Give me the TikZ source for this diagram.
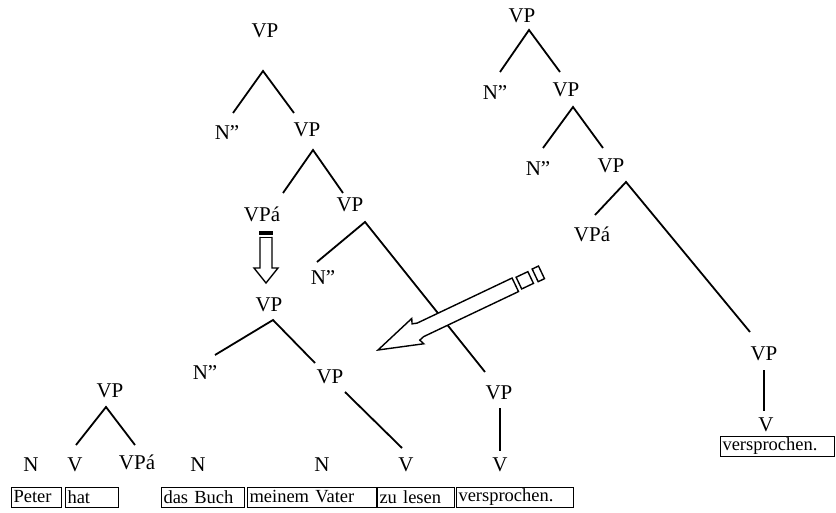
\documentclass[tikz,border=0pt]{standalone}
\usepackage{fontspec}
\setmainfont{Liberation Serif}
\begin{document}
\begin{tikzpicture}[x=1pt,y=-1pt,
  lbl/.style={font=\fontsize{21}{21}\selectfont, inner sep=0pt},
  br/.style={line width=1.8pt},
  thinbr/.style={line width=1.1pt},
  arr/.style={line width=1.4pt, line join=miter},
  wbox/.style={draw, line width=1pt, font=\fontsize{18.5}{19}\selectfont, anchor=west,
    minimum height=20pt, inner xsep=2pt, inner ysep=0pt, text width=#1, align=left},
]
\useasboundingbox (0,0) rectangle (836,513);

% ---------- middle tree ----------
\node[lbl] (t1vp)  at (265,31)  {VP};
\node[lbl] (t1n1)  at (227,133) {N”};
\node[lbl] (t1vp2) at (307,130) {VP};
\node[lbl] (t1vpa) at (262,214) {VPá};
\node[lbl] (t1vp3) at (350,205) {VP};
\node[lbl] (t1n2)  at (323,278) {N”};
\node[lbl] (t1vp4) at (269,305) {VP};
\node[lbl] (t1n3)  at (205,373) {N”};
\node[lbl] (t1vp5) at (330,377) {VP};

\coordinate (a1) at (263,71);  \coordinate (a1l) at (233,113); \coordinate (a1r) at (294,113);
\coordinate (a2) at (313,150); \coordinate (a2l) at (283,193); \coordinate (a2r) at (343,193);
\coordinate (a3) at (365,222); \coordinate (a3l) at (317,262); \coordinate (a3r) at (485,372);
\coordinate (a4) at (273,320); \coordinate (a4l) at (215,355); \coordinate (a4r) at (315,363);
\coordinate (b5) at (345,392); \coordinate (b5e) at (402,448);
\draw[br] (a1l) -- (a1) -- (a1r);
\draw[br] (a2l) -- (a2) -- (a2r);
\draw[br] (a3l) -- (a3) -- (a3r);
\draw[br] (a4l) -- (a4) -- (a4r);
\draw[br] (b5) -- (b5e);

% small down arrow
\draw[arr] (260,237) -- (260,268) -- (254,268) -- (266,283) -- (278,268) -- (272,268) -- (272,237);
\fill (259.3,231) rectangle (272.7,235);
\draw[line width=1pt] (260,238) -- (272,238);

% ---------- small tree ----------
\node[lbl] (s1vp) at (110,391) {VP};
\coordinate (a5) at (106,407); \coordinate (a5l) at (76,445); \coordinate (a5r) at (135,445);
\draw[br] (a5l) -- (a5) -- (a5r);

% bottom labels
\node[lbl] (bn1) at (31,465)  {N};
\node[lbl] (bv1) at (75,465)  {V};
\node[lbl] (bvpa) at (137,462) {VPá};
\node[lbl] (bn2) at (198,465) {N};
\node[lbl] (bn3) at (322,465) {N};
\node[lbl] (bv2) at (406,465) {V};
\node[lbl] (bv3) at (500,465) {V};
\node[lbl] (mvp) at (499,393) {VP};
\coordinate (mv1) at (500,408); \coordinate (mv2) at (500,451);
\draw[thinbr] (mv1) -- (mv2);

% bottom boxes
\node[wbox=46pt] (bx1) at (11,497)  {Peter};
\node[wbox=49pt] (bx2) at (65,497)  {hat};
\node[wbox=79pt] (bx3) at (161,497) {das Buch};
\node[wbox=125pt] (bx4) at (247,497) {meinem Vater};
\node[wbox=73pt] (bx5) at (377,497) {zu lesen};
\node[wbox=113pt] (bx6) at (456,497) {versprochen.};

% ---------- right tree ----------
\node[lbl] (r1vp)  at (522,16)  {VP};
\node[lbl] (r1n1)  at (495,93)  {N”};
\node[lbl] (r1vp2) at (566,90)  {VP};
\node[lbl] (r1n2)  at (538,169) {N”};
\node[lbl] (r1vp3) at (611,166) {VP};
\node[lbl] (r1vpa) at (592,234) {VPá};
\node[lbl] (r1vp4) at (764,354) {VP};
\node[lbl] (r1v)   at (766,425) {V};
\coordinate (a6) at (529,30);  \coordinate (a6l) at (500,72);  \coordinate (a6r) at (560,72);
\coordinate (a7) at (573,107); \coordinate (a7l) at (543,148); \coordinate (a7r) at (603,148);
\coordinate (a8) at (626,182); \coordinate (a8l) at (595,215); \coordinate (a8r) at (750,332);
\draw[br] (a6l) -- (a6) -- (a6r);
\draw[br] (a7l) -- (a7) -- (a7r);
\draw[br] (a8l) -- (a8) -- (a8r);
\coordinate (rv1) at (764,370); \coordinate (rv2) at (764,411);
\draw[thinbr] (rv1) -- (rv2);
\node[wbox=110pt] (bx7) at (720,446) {versprochen.};

% ---------- big arrow ----------
\begin{scope}[shift={(378,350)}, rotate=25.4]
  \draw[arr, fill=white] (0,0) -- (44,14) -- (42,9) -- (47,7.5) -- (152,7.5) -- (152,-7.5)
     -- (47,-7.5) -- (42,-9) -- (44,-14) -- cycle;
  \draw[arr] (156,-6.5) rectangle (169,6.5);
  \draw[arr] (174,-7) rectangle (181,7);
\end{scope}
\end{tikzpicture}
\end{document}
